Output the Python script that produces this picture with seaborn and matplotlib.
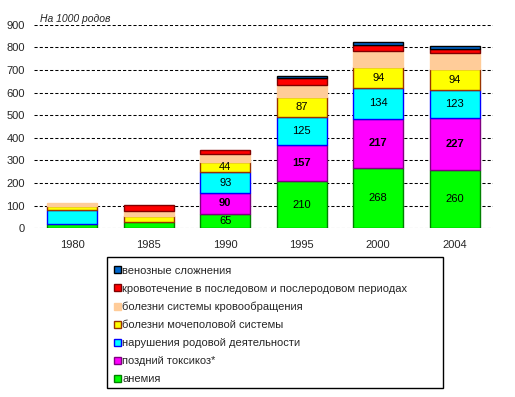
import numpy as np
import pandas as pd
import matplotlib
matplotlib.use("Agg")
import matplotlib.pyplot as plt
import seaborn as sns
from matplotlib.patches import Rectangle, Patch

years = ["1980", "1985", "1990", "1995", "2000", "2004"]
anemia = [19, 28, 65, 210, 268, 260]
toxicosis = [0, 0, 90, 157, 217, 227]
labor = [61, 0, 93, 125, 134, 123]
urogenital = [17, 25, 44, 87, 94, 94]
circulation = [17, 25, 35, 56, 70, 70]
bleeding = [0, 23, 19, 28, 28, 18]
venous = [0, 0, 0, 10, 13, 13]

series_names = [
    "анемия",
    "поздний токсикоз*",
    "нарушения родовой деятельности",
    "болезни мочеполовой системы",
    "болезни системы кровообращения",
    "кровотечение в последовом и послеродовом периодах",
    "венозные сложнения",
]
series_values = [anemia, toxicosis, labor, urogenital, circulation, bleeding, venous]
face_colors = ["#00FF00", "#FF00FF", "#00FFFF", "#FFFF00", "#FFCC99", "#FF0000", "#0066CC"]
edge_colors = ["#008000", "#800080", "#0000FF", "#993300", "#FFCC99", "#800000", "#000000"]
labeled = [True, True, True, True, False, False, False]
bold = [False, True, False, False, False, False, False]

sns.set_style("white")
plt.rcParams["font.family"] = ["Liberation Sans", "DejaVu Sans"]

fig = plt.figure(figsize=(5.15, 3.97), dpi=100)
ax = fig.add_axes([34 / 515, 1 - 228.3 / 397, (493 - 34) / 515, (228.3 - 24.8) / 397])

bottom = np.zeros(len(years))
for name, vals, fc, ec, lab, bd in zip(series_names, series_values, face_colors,
                                        edge_colors, labeled, bold):
    df = pd.DataFrame({"year": years, "value": vals})
    sns.barplot(data=df, x="year", y="value", ax=ax, color=fc, edgecolor=ec,
                linewidth=1.0, width=0.65, bottom=bottom.copy(), errorbar=None,
                saturation=1)
    cont = ax.containers[-1]
    for p, v in zip(cont.patches, vals):
        if v == 0:
            p.set_visible(False)
    if lab:
        labels = [str(v) if i >= 2 else "" for i, v in enumerate(vals)]
        ax.bar_label(cont, labels=labels, label_type="center", fontsize=8,
                     fontweight="bold" if bd else "normal", color="black")
    bottom += np.array(vals, dtype=float)

if ax.get_legend() is not None:
    ax.get_legend().remove()

ax.set_ylim(0, 900)
ax.set_xlim(-0.5, len(years) - 0.5)
ax.set_yticks(range(0, 901, 100))
ax.set_xlabel("")
ax.set_ylabel("")
ax.grid(axis="y", color="black", linestyle=(0, (3, 2)), linewidth=0.75)
ax.set_axisbelow(True)
for s in ax.spines.values():
    s.set_visible(False)
ax.tick_params(axis="y", length=0, pad=6.5, labelsize=8)
ax.tick_params(axis="x", length=0, pad=8.5, labelsize=8)

ax.text(40 / 515, 1 - 19 / 397, "На 1000 родов", transform=fig.transFigure,
        fontsize=7.5, fontstyle="italic", ha="left", va="center")

handles = [Patch(facecolor=fc, edgecolor=ec, linewidth=1.0)
           for fc, ec in zip(face_colors, edge_colors)]
fig.legend(handles=handles[::-1], labels=series_names[::-1],
           loc="upper left", bbox_to_anchor=(114 / 515, 1 - 265.5 / 397),
           frameon=False, fontsize=8, handlelength=0.6, handleheight=0.6,
           handletextpad=0.15, labelspacing=0.72, borderpad=0, borderaxespad=0)

fig.patches.append(Rectangle((107 / 515, 1 - 388 / 397), (443 - 107) / 515, (388 - 257) / 397,
                             transform=fig.transFigure, fill=False, edgecolor="black",
                             linewidth=1.0))

fig.savefig("out.png", dpi=100)
